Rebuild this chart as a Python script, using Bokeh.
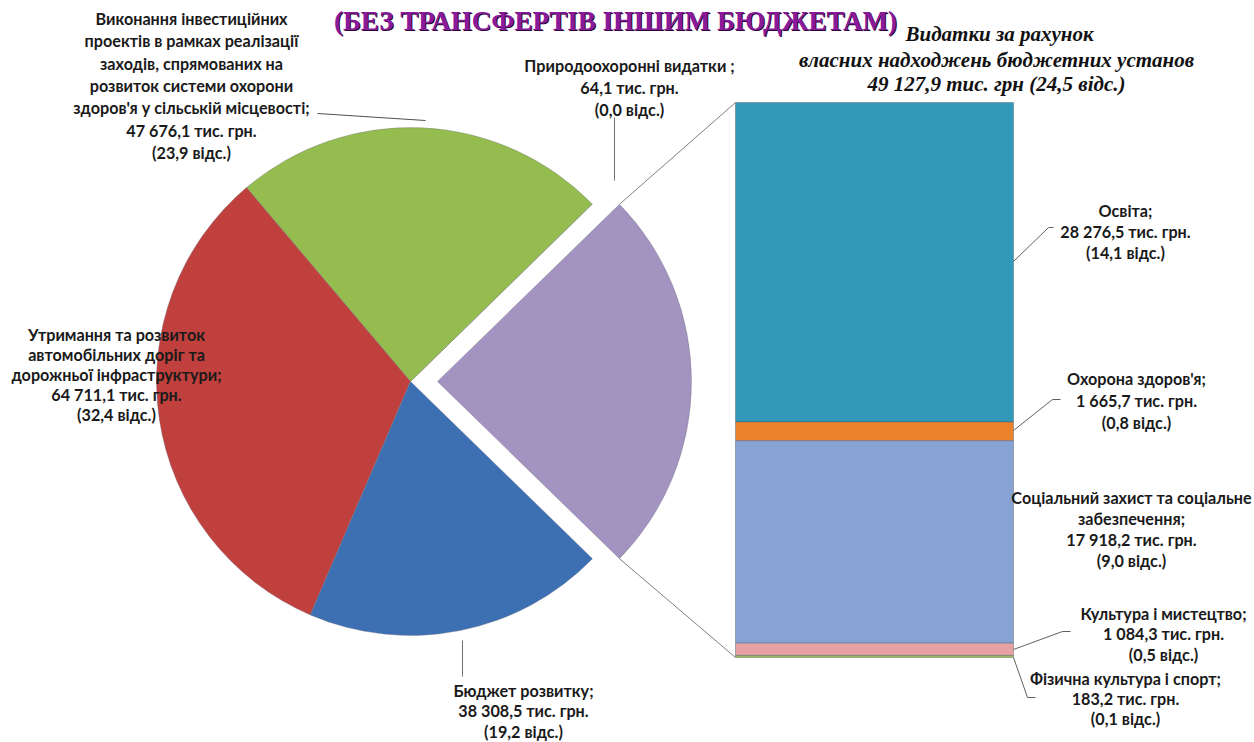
import math
from bokeh.plotting import figure
from bokeh.models import Range1d, ColumnDataSource
from bokeh.core.properties import value
from bokeh.embed import file_html
from bokeh.resources import INLINE

W, H = 1254, 742

# ---------------- data ----------------
pie_names = ["Власні надходження бюджетних установ", "Природоохоронні видатки",
             "Виконання інвестиційних проектів", "Утримання та розвиток доріг",
             "Бюджет розвитку"]
pie_values = [49127.9, 64.1, 47676.1, 64711.1, 38308.5]
pie_colors = ["#a393c1", "#f2f2f2", "#95bc4e", "#c0403e", "#3d6fb3"]

pie_labels = [
    None,
    ["Природоохоронні видатки ;", "64,1 тис. грн.", "(0,0 відс.)"],
    ["Виконання інвестиційних", "проектів в рамках реалізації", "заходів, спрямованих на",
     "розвиток системи охорони", "здоров'я у сільській місцевості;", "47 676,1 тис. грн.",
     "(23,9 відс.)"],
    ["Утримання та розвиток", "автомобільних доріг та", "дорожньої інфраструктури;",
     "64 711,1 тис. грн.", "(32,4 відс.)"],
    ["Бюджет розвитку;", "38 308,5 тис. грн.", "(19,2 відс.)"],
]

bar_names = ["Освіта", "Охорона здоров'я", "Соціальний захист та соціальне забезпечення",
             "Культура і мистецтво", "Фізична культура і спорт"]
bar_values = [28276.5, 1665.7, 17918.2, 1084.3, 183.2]
bar_colors = ["#3299b8", "#ea8329", "#87a3d4", "#e6a2a2", "#9bbb59"]
bar_labels = [
    ["Освіта;", "28 276,5 тис. грн.", "(14,1 відс.)"],
    ["Охорона здоров'я;", "1 665,7 тис. грн.", "(0,8 відс.)"],
    ["Соціальний захист та соціальне", "забезпечення;", "17 918,2 тис. грн.", "(9,0 відс.)"],
    ["Культура і мистецтво;", "1 084,3 тис. грн.", "(0,5 відс.)"],
    ["Фізична культура і спорт;", "183,2 тис. грн.", "(0,1 відс.)"],
]

title_text = "(БЕЗ ТРАНСФЕРТІВ ІНШИМ БЮДЖЕТАМ)"
subtitle_lines = ["Видатки за рахунок", "власних надходжень бюджетних установ",
                  "49 127,9 тис. грн (24,5 відс.)"]

# ---------------- layout ----------------
def Y(y):  # convert from top-based pixel to data y
    return H - y

p = figure(width=W, height=H, x_range=Range1d(0, W), y_range=Range1d(0, H),
           output_backend="svg", toolbar_location=None, min_border=0)
p.axis.visible = False
p.grid.visible = False
p.outline_line_color = None
p.background_fill_color = "white"

cx, cy, R = 410, Y(381), 254
explode = 27

total = sum(pie_values)
angles = [v / total * 2 * math.pi for v in pie_values]
start = -angles[0] / 2
starts, ends = [], []
for a in angles:
    starts.append(start)
    ends.append(start + a)
    start += a

xs = [cx + explode if i == 0 else cx for i in range(len(pie_values))]
src = ColumnDataSource(dict(x=xs, y=[cy] * len(xs), s=starts, e=ends, c=pie_colors))
p.wedge(x="x", y="y", radius=R, start_angle="s", end_angle="e", fill_color="c",
        line_color="#6f6f7f", line_width=0.6, line_alpha=0.6, source=src)

# bar
bar_left, bar_right = 735, 1013
bar_top, bar_bottom = Y(102), Y(657)
scale = (bar_top - bar_bottom) / sum(bar_values)
tops, bots = [], []
cur = bar_top
for v in bar_values:
    tops.append(cur)
    bots.append(cur - v * scale)
    cur -= v * scale
p.quad(left=bar_left, right=bar_right, top=tops, bottom=bots, fill_color=bar_colors,
       line_color="#4a5a6a", line_width=0.6, line_alpha=0.7)

# connectors from exploded slice to bar
px_top = cx + explode + R * math.cos(ends[0])
py_top = cy + R * math.sin(ends[0])
px_bot = cx + explode + R * math.cos(starts[0])
py_bot = cy + R * math.sin(starts[0])
p.segment(x0=[px_top, px_bot], y0=[py_top, py_bot], x1=[bar_left, bar_left],
          y1=[bar_top, bar_bottom], line_color="#808080", line_width=1)

# label font
lf = value("Lato")
def label(x, yc, lines, lh=22):
    n = len(lines)
    ys = [Y(yc + (i - (n - 1) / 2) * lh) for i in range(n)]
    p.text(x=[x] * n, y=ys, text=lines, text_font=lf, text_font_style="bold",
           text_font_size="16.2px", text_color="#1a1a1a", text_align="center",
           text_baseline="middle")

# pie labels
label(629, 87, pie_labels[1])
label(191, 85, pie_labels[2], lh=22.3)
label(116, 374, pie_labels[3], lh=20)
label(523, 710, pie_labels[4], lh=20.5)

# pie leader lines
p.line(x=[614, 614], y=[Y(117), Y(180)], line_color="#707070", line_width=1)
p.line(x=[317, 425], y=[Y(113), Y(120)], line_color="#505050", line_width=1)
p.line(x=[462, 462], y=[Y(640), Y(676)], line_color="#707070", line_width=1)

# bar labels
label(1125, 231, bar_labels[0], lh=21)
label(1136, 400, bar_labels[1], lh=22)
label(1131, 528, bar_labels[2], lh=21)
label(1163, 633, bar_labels[3], lh=20.5)
label(1125, 698, bar_labels[4], lh=20)

# bar leader lines
lc = "#606060"
p.line(x=[bar_right, 1048, 1053], y=[Y(261), Y(227), Y(227)], line_color=lc, line_width=1)
p.line(x=[bar_right, 1052, 1060], y=[Y(430), Y(399), Y(399)], line_color=lc, line_width=1)
p.line(x=[bar_right, 1062, 1070], y=[Y(649), Y(631), Y(631)], line_color=lc, line_width=1)
p.line(x=[bar_right, 1027, 1035], y=[Y(657), Y(697), Y(697)], line_color=lc, line_width=1)

# title (with shadow)
tf = value("Liberation Serif")
p.text(x=[616], y=[Y(21)], text=[title_text], text_font=tf, text_font_style="bold",
       text_font_size="27px", text_color="#2a0635", text_align="center",
       text_baseline="middle")
p.text(x=[615], y=[Y(20)], text=[title_text], text_font=tf, text_font_style="bold",
       text_font_size="27px", text_color="#8a1a9c", text_align="center",
       text_baseline="middle")

# subtitle
for yy, t, xx in zip([33, 59, 83], subtitle_lines, [999, 996, 996]):
    p.text(x=[xx], y=[Y(yy)], text=[t], text_font=tf, text_font_style="bold italic",
           text_font_size="21px", text_color="#111111", text_align="center",
           text_baseline="middle")

open("out.html", "w").write(file_html(p, INLINE))
